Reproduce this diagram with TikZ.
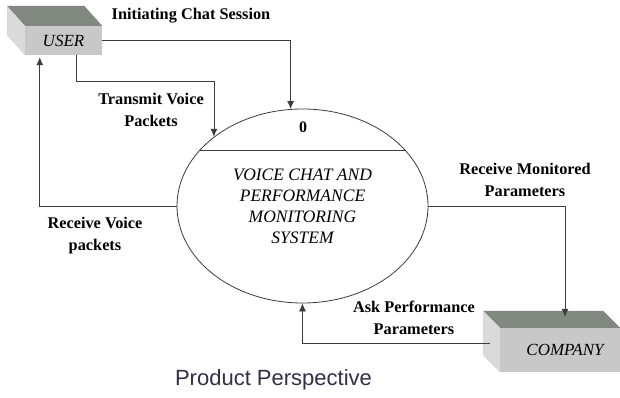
\documentclass[tikz,border=0pt]{standalone}
\usepackage{fontspec}
\setmainfont{Liberation Serif}
\newfontfamily\arialfont{Liberation Sans}
\usetikzlibrary{shapes.geometric,arrows.meta,calc}
\definecolor{topface}{RGB}{128,136,128}
\definecolor{frontface}{RGB}{200,200,200}
\definecolor{sideface}{RGB}{218,218,218}
\definecolor{linegray}{RGB}{60,60,60}
\definecolor{captionblue}{RGB}{48,48,72}
\begin{document}
\begin{tikzpicture}[x=1pt,y=-1pt,
  flow/.style={draw=linegray, line width=0.8pt, -{Latex[length=8pt,width=7pt]}},
  frontbox/.style={fill=frontface, draw=none, inner sep=0pt, font=\fontsize{17}{17}\selectfont\itshape},
  lbl/.style={font=\fontsize{16.3}{22}\selectfont\bfseries, align=center, inner sep=0pt},
  proc/.style={draw=linegray, line width=0.8pt, ellipse, minimum width=251pt, minimum height=194pt, inner sep=0pt, font=\fontsize{17.5}{21}\selectfont\itshape, align=center}
]
\useasboundingbox (0,0) rectangle (620,398);
\fill[white] (0,0) rectangle (620,398);

% USER box
\node[frontbox, minimum width=77pt, minimum height=29pt] (user) at (63.5,40.5) {USER};
\fill[topface] (user.north west) -- ++(-18,-20) -- ($(user.north east)+(-18,-20)$) -- (user.north east) -- cycle;
\fill[sideface] (user.north west) -- ++(-18,-20) -- ($(user.south west)+(-18,-20)$) -- (user.south west) -- cycle;

% COMPANY box
\node[frontbox, minimum width=120pt, minimum height=44pt] (company) at (560,350) {\hspace{10pt}COMPANY};
\fill[topface] (company.north west) -- ++(-17,-17) -- ($(company.north east)+(-17,-17)$) -- (company.north east) -- cycle;
\fill[sideface] (company.north west) -- ++(-17,-17) -- ($(company.south west)+(-17,-17)$) -- (company.south west) -- cycle;

% process
\node[proc] (sys) at (302.5,206) {VOICE CHAT AND\\PERFORMANCE\\MONITORING\\SYSTEM};
\draw[linegray, line width=0.8pt] (sys.152) -- (sys.28);
\node[font=\fontsize{16}{16}\selectfont\bfseries] (num) at (303,127) {0};

% connectors
\coordinate (inA) at (sys.97.4);
\coordinate (inB) at (sys.142.8);
\coordinate (tvstart) at ($(user.south west)+(52,0)$);
\coordinate (userin) at ($(user.south west)+(15,2)$);
\coordinate (ctop) at ($(company.north)+(5,-11)$);
\coordinate (cout) at ($(company.west)+(-10,-7)$);
\draw[flow] (user.east) -| (inA);
\draw[flow] (tvstart) |- (inB |- 0,81) -- (inB);
\draw[flow] (sys.west) -| (userin);
\draw[flow] (sys.east) -| (ctop);
\draw[flow] (cout) -| (sys.south);

% labels
\node[lbl] (l1) at (191,16) {Initiating Chat Session};
\node[lbl] (l2) at (151,110) {Transmit Voice\\Packets};
\node[lbl] (l3) at (95,236) {Receive Voice\\packets};
\node[lbl] (l4) at (525,180) {Receive Monitored\\Parameters};
\node[lbl] (l5) at (414,318) {Ask Performance\\Parameters};
\node[font=\arialfont\fontsize{22}{22}\selectfont, text=captionblue, inner sep=0pt] (cap) at (273.5,380) {Product Perspective};
\end{tikzpicture}
\end{document}
